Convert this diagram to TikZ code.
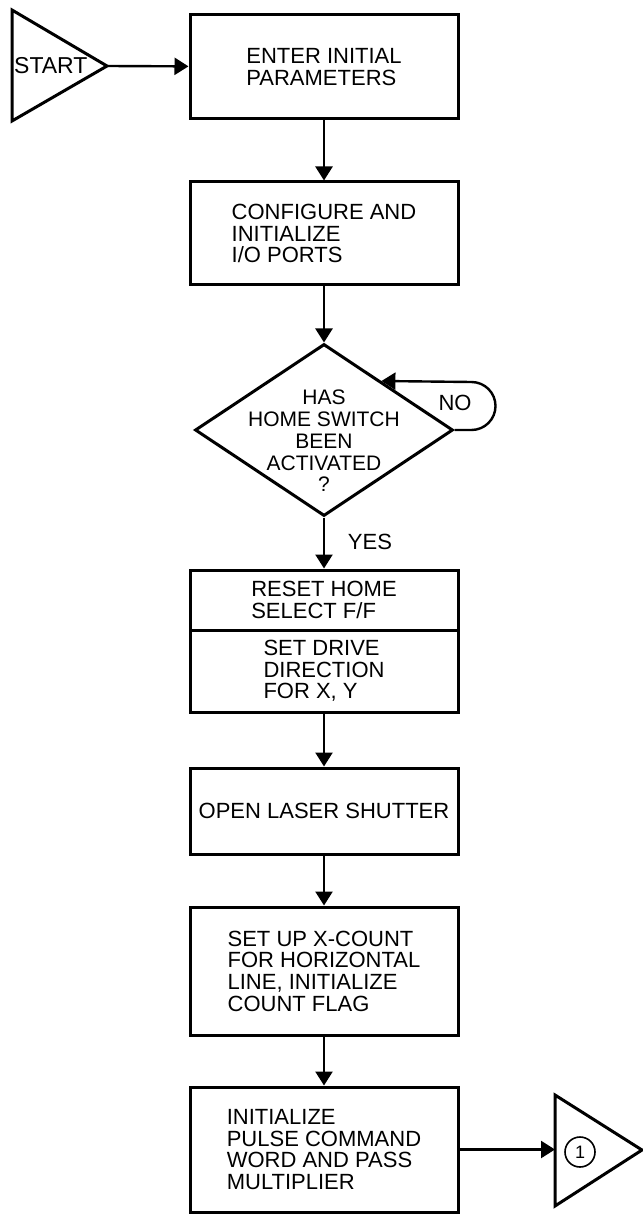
\documentclass[tikz,border=0pt]{standalone}
\usepackage{fontspec}
\setmainfont{Liberation Sans}
\usetikzlibrary{shapes.geometric, arrows.meta, calc}

\begin{document}
\begin{tikzpicture}[x=1pt, y=-1pt,
    box/.style={draw, line width=3pt, minimum width=268pt, align=left, inner sep=0pt,
      font=\fontsize{22}{21.7}\selectfont},
    lbl/.style={inner sep=0pt, font=\fontsize{22}{21.7}\selectfont},
    arr/.style={line width=2.4pt, -{Triangle[length=14pt, width=17pt]}}]
  \useasboundingbox (0,0) rectangle (642,1214);
  \coordinate (S1) at (12,10); \coordinate (S2) at (12,121); \coordinate (S3) at (107,66);
  \draw[line width=3pt] (S1) -- (S3) -- (S2) -- cycle;
  \node[lbl, anchor=west, font=\fontsize{23}{23}\selectfont] (start) at (14,66) {START};
  \node[box, minimum height=104pt] (enter) at (324,67) {ENTER INITIAL\\PARAMETERS};
  \node[box, minimum height=103pt] (config) at (324,233.5) {CONFIGURE AND\\INITIALIZE\\I/O PORTS};
  \node[draw, diamond, line width=3pt, minimum width=258pt, minimum height=172pt, inner sep=0pt] (home) at (324,430) {};
  \node[lbl, align=center, font=\fontsize{21}{21.7}\selectfont] (ask) at (324,441) {HAS\\HOME SWITCH\\BEEN\\ACTIVATED\\?};
  \node[lbl] (no) at (455,403) {NO};
  \node[lbl] (yes) at (370,542) {YES};
  \node[box, minimum height=60pt] (reset) at (324,600) {RESET HOME\\SELECT F/F};
  \node[box, minimum height=82pt] (drive) at (324,671) {SET DRIVE\\DIRECTION\\FOR X, Y};
  \node[box, minimum height=86pt] (shutter) at (324,811) {OPEN LASER SHUTTER};
  \node[box, minimum height=128pt] (xcount) at (324,971) {SET UP X-COUNT\\FOR HORIZONTAL\\LINE, INITIALIZE\\COUNT FLAG};
  \node[box, minimum height=125pt] (pulse) at (324,1149.5) {INITIALIZE\\PULSE COMMAND\\WORD AND PASS\\MULTIPLIER};
  \coordinate (E1) at (555,1095); \coordinate (E2) at (555,1206); \coordinate (E3) at (642,1150);
  \coordinate (E4) at (555,1149.5);
  \draw[line width=3pt] (E1) -- (E3) -- (E2) -- cycle;
  \node[draw, circle, line width=1.6pt, minimum size=30pt, inner sep=0pt, font=\fontsize{18}{18}\selectfont] (one) at (580,1152) {1};
  \draw[arr] (S3) -- (enter);
  \draw[arr] (enter) -- (config);
  \draw[arr] (config) -- (home);
  \draw[arr] (home.east) -- ++(17,0) arc[start angle=90, end angle=-90, radius=24] -- ($(home.north)!0.44!(home.east)$);
  \draw[arr] (home) -- (reset);
  \draw[arr] (drive) -- (shutter);
  \draw[arr] (shutter) -- (xcount);
  \draw[arr] (xcount) -- (pulse);
  \draw[arr] (pulse) -- (E4);
\end{tikzpicture}
\end{document}
